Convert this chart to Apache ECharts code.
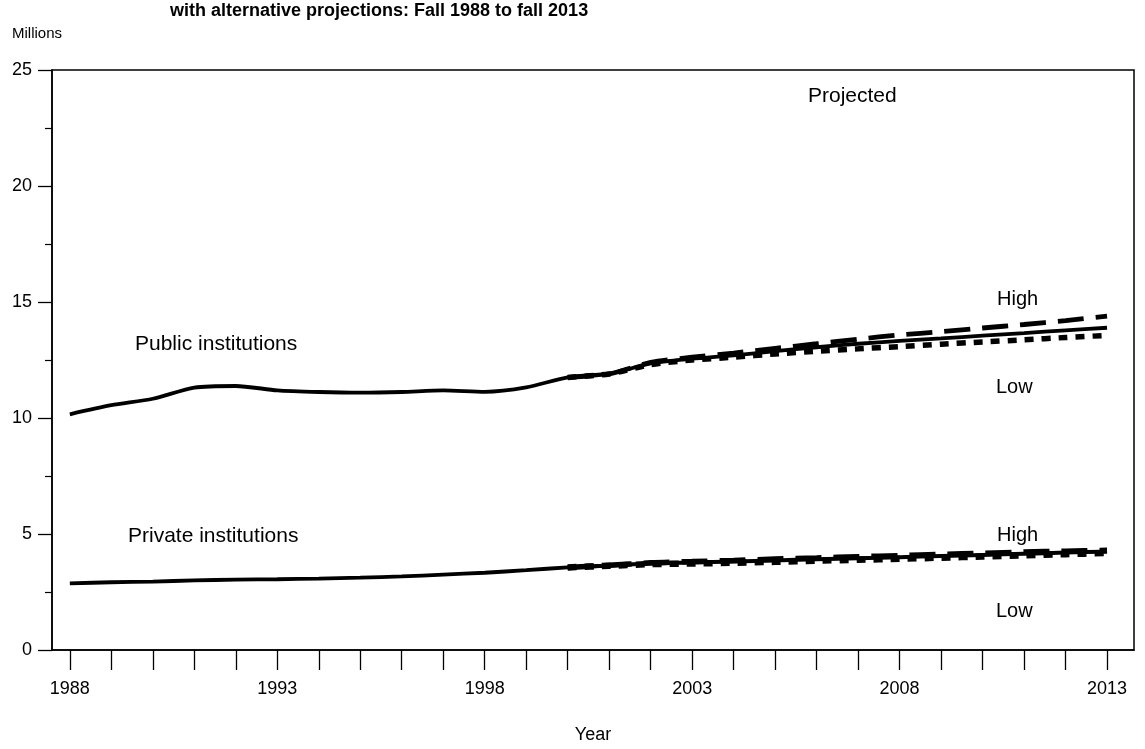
<!DOCTYPE html>
<html>
<head>
<meta charset="utf-8">
<script src="https://cdn.jsdelivr.net/npm/echarts@6/dist/echarts.min.js"></script>
<style>
html,body{margin:0;padding:0;background:#fff;}
#chart{width:1145px;height:749px;}
</style>
</head>
<body>
<div id="chart"></div>
<script>
// ---- data (millions of students) ----
const actualYears = [1988,1989,1990,1991,1992,1993,1994,1995,1996,1997,1998,1999,2000,2001];
const publicActual = [10.16,10.55,10.83,11.31,11.38,11.19,11.12,11.09,11.12,11.19,11.13,11.32,11.75,11.9];
const privateActual = [2.87,2.92,2.95,3.0,3.03,3.05,3.08,3.12,3.17,3.25,3.33,3.44,3.56,3.64];

const projYears = [2000,2001,2002,2003,2004,2005,2006,2007,2008,2009,2010,2011,2012,2013];
const publicMiddle = [11.75,11.9,12.35,12.55,12.7,12.88,13.05,13.2,13.32,13.43,13.55,13.66,13.78,13.89];
const publicHigh   = [11.75,11.9,12.4,12.62,12.8,13.0,13.2,13.4,13.58,13.72,13.88,14.03,14.2,14.39];
const publicLow    = [11.75,11.9,12.3,12.5,12.62,12.76,12.88,12.98,13.08,13.18,13.28,13.37,13.47,13.56];
const privateMiddle = [3.56,3.64,3.73,3.77,3.81,3.86,3.91,3.95,4.0,4.05,4.1,4.15,4.2,4.24];
const privateHigh   = [3.56,3.65,3.76,3.81,3.86,3.92,3.97,4.02,4.07,4.12,4.17,4.22,4.26,4.3];
const privateLow    = [3.56,3.63,3.7,3.73,3.76,3.8,3.85,3.89,3.93,3.98,4.03,4.08,4.13,4.18];

const tickYears = [1988,1989,1990,1991,1992,1993,1994,1995,1996,1997,1998,1999,2000,2001,2002,2003,2004,2005,2006,2007,2008,2009,2010,2011,2012,2013];
const labelYears = [1988,1993,1998,2003,2008,2013];

const titleText = 'with alternative projections: Fall 1988 to fall 2013';

function pairs(xs, ys){ return xs.map((x,i)=>[x, ys[i]]); }

const FONT = '"Liberation Sans", Arial, sans-serif';
const txt = (s, left, top, size) => ({
  type:'text', left:left, top:top,
  style:{text:s, fill:'#000', font: (size||20)+'px ' + FONT}
});

const chart = echarts.init(document.getElementById('chart'), null, {renderer:'canvas'});

function lineSeries(name, data, width, type){
  return {
    name:name, type:'line', data:data, symbol:'none', smooth:0.25,
    lineStyle:{color:'#000', width:width, type:type || 'solid', cap:'butt'},
    emphasis:{disabled:true}, animation:false, z: type ? 3 : 2
  };
}

chart.setOption({
  backgroundColor:'#fff',
  animation:false,
  title:{
    text:titleText, left:165, top:-3,
    textStyle:{fontFamily:FONT, fontSize:18, fontWeight:'bold', color:'#000'}
  },
  grid:{
    left:52, right:11, top:70, bottom:93,
    show:true, borderColor:'#000', borderWidth:1.5, backgroundColor:'transparent'
  },
  xAxis:{
    type:'value', min:1987.57, max:2013.65,
    name:'Year', nameLocation:'middle', nameGap:76,
    nameTextStyle:{fontFamily:FONT, fontSize:18, color:'#000'},
    axisLine:{show:true, lineStyle:{color:'#000', width:1.5}},
    axisTick:{show:true, inside:false, length:20, customValues:tickYears, lineStyle:{color:'#000', width:1.3}},
    axisLabel:{show:true, customValues:labelYears, margin:30, formatter:(v)=>String(v),
      fontFamily:FONT, fontSize:18, color:'#000'},
    splitLine:{show:false}
  },
  yAxis:{
    type:'value', min:0, max:25, interval:5,
    axisLine:{show:true, lineStyle:{color:'#000', width:1.5}},
    axisTick:{show:true, inside:false, length:14, lineStyle:{color:'#000', width:1.3}},
    minorTick:{show:true, splitNumber:2, length:7, lineStyle:{color:'#000', width:1.2}},
    axisLabel:{fontFamily:FONT, fontSize:18, color:'#000', margin:20},
    splitLine:{show:false}, minorSplitLine:{show:false}
  },
  graphic:[
    txt('Millions', 12, 26, 15),
    txt('Projected', 808, 86, 21),
    txt('Public institutions', 135, 334, 21),
    txt('Private institutions', 128, 526, 21),
    txt('High', 997, 289, 20),
    txt('Low', 996, 377, 20),
    txt('High', 997, 525, 20),
    txt('Low', 996, 601, 20)
  ],
  series:[
    lineSeries('Public actual', pairs(actualYears, publicActual), 3.8),
    lineSeries('Public middle', pairs(projYears, publicMiddle), 3.8),
    lineSeries('Public high', pairs(projYears, publicHigh), 4.8, [26,12]),
    lineSeries('Public low', pairs(projYears, publicLow), 5.5, [9,8]),
    lineSeries('Private actual', pairs(actualYears, privateActual), 3.8),
    lineSeries('Private middle', pairs(projYears, privateMiddle), 4),
    lineSeries('Private high', pairs(projYears, privateHigh), 5.5, [26,12]),
    lineSeries('Private low', pairs(projYears, privateLow), 6.5, [9,8])
  ]
});
</script>
</body>
</html>
